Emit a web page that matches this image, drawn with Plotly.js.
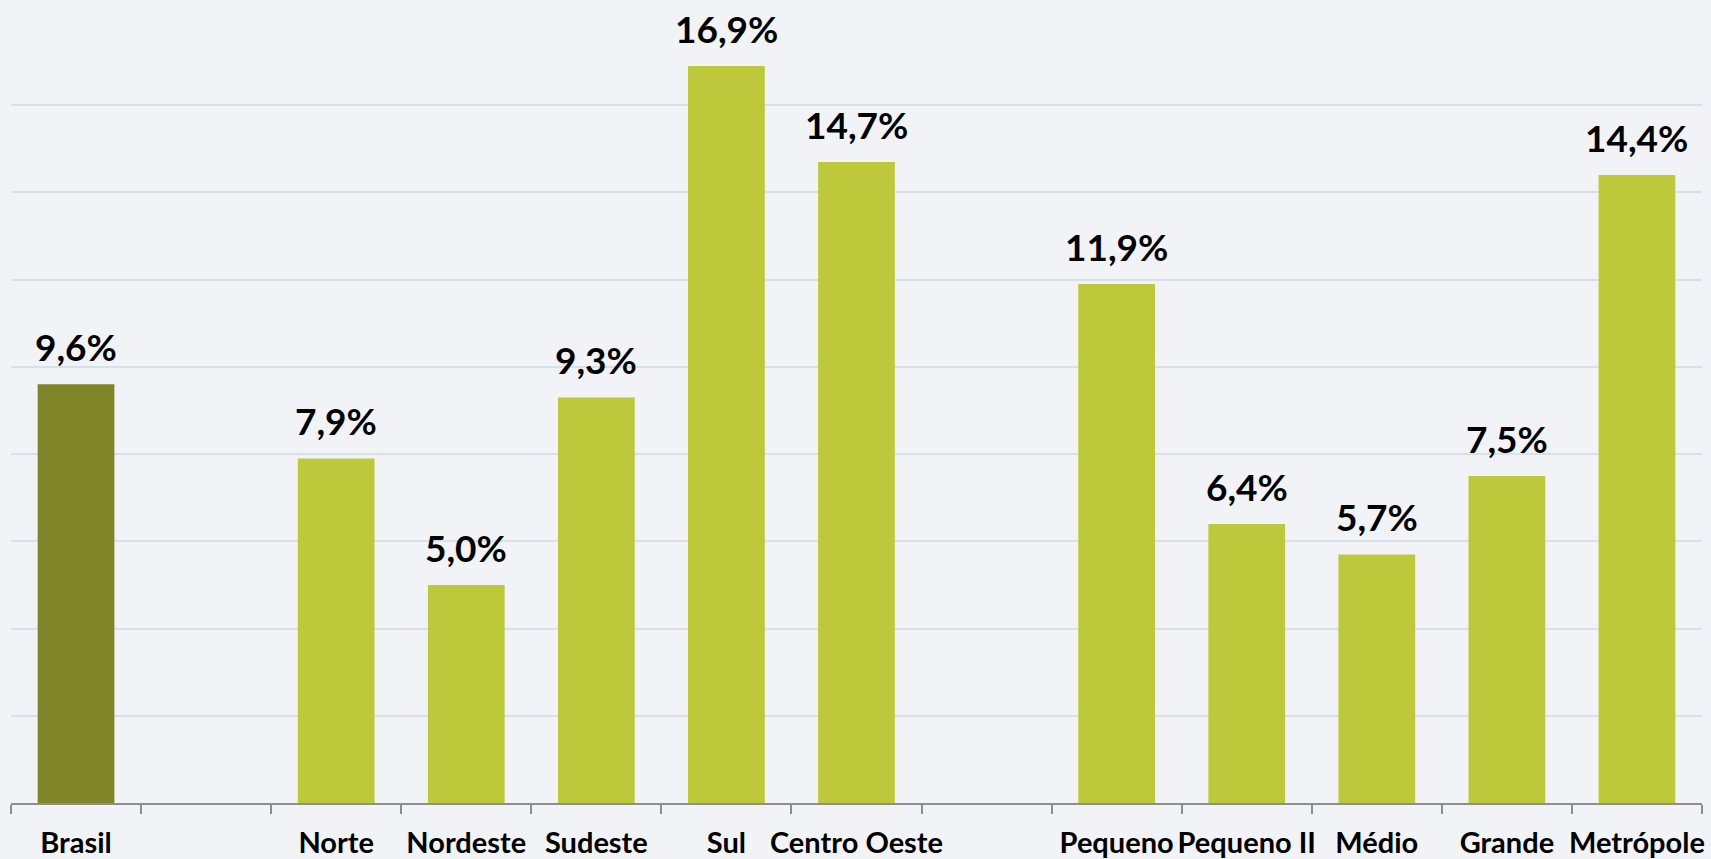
<!DOCTYPE html>
<html>
<head>
<meta charset="utf-8">
<script src="https://cdn.plot.ly/plotly-3.0.1.min.js"></script>
<style>
html,body{margin:0;padding:0;background:#f2f3f6;}
#chart{width:1711px;height:859px;}
</style>
</head>
<body>
<div id="chart"></div>
<script>
// Data
const categories = ["Brasil", " ", "Norte", "Nordeste", "Sudeste", "Sul", "Centro Oeste", "  ", "Pequeno", "Pequeno II", "Médio", "Grande", "Metrópole"];
const values = [9.6, null, 7.9, 5.0, 9.3, 16.9, 14.7, null, 11.9, 6.4, 5.7, 7.5, 14.4];
const labels = ["9,6%", "", "7,9%", "5,0%", "9,3%", "16,9%", "14,7%", "", "11,9%", "6,4%", "5,7%", "7,5%", "14,4%"];

const colors = categories.map(c => c === "Brasil" ? "#80852a" : "#bdc83b");

const trace = {
  type: "bar",
  x: categories,
  y: values,
  marker: {color: colors, line: {width: 0}},
  hoverinfo: "skip"
};

const annotations = [];
categories.forEach((c, i) => {
  if (values[i] === null) return;
  annotations.push({
    x: c, y: values[i], text: labels[i],
    xref: "x", yref: "y",
    showarrow: false, yanchor: "bottom", yshift: 13,
    font: {family: "Lato, 'Open Sans', sans-serif", size: 37, color: "#000000", weight: 700}
  });
});

const layout = {
  width: 1711, height: 859,
  margin: {l: 11, r: 9, t: 18, b: 56},
  paper_bgcolor: "#f2f3f6",
  plot_bgcolor: "#f2f3f6",
  showlegend: false,
  bargap: 0.41,
  xaxis: {
    type: "category",
    categoryorder: "array",
    categoryarray: categories,
    showgrid: false,
    zeroline: false,
    showline: true,
    linecolor: "#8e8e8e",
    linewidth: 2,
    ticks: "outside",
    tickson: "boundaries",
    ticklen: 9,
    tickwidth: 2,
    tickcolor: "#8e8e8e",
    tickangle: 0,
    automargin: false,
    ticklabelstandoff: 13,
    tickfont: {family: "Lato, 'Open Sans', sans-serif", size: 29, color: "#000000", weight: 700}
  },
  yaxis: {
    range: [0, 18],
    dtick: 2,
    tick0: 0,
    showticklabels: false,
    showgrid: true,
    gridcolor: "#d8e0ec",
    gridwidth: 2,
    zeroline: false,
    showline: false,
    ticks: ""
  },
  annotations: annotations
};

Plotly.newPlot("chart", [trace], layout, {displayModeBar: false, staticPlot: true});
</script>
</body>
</html>
